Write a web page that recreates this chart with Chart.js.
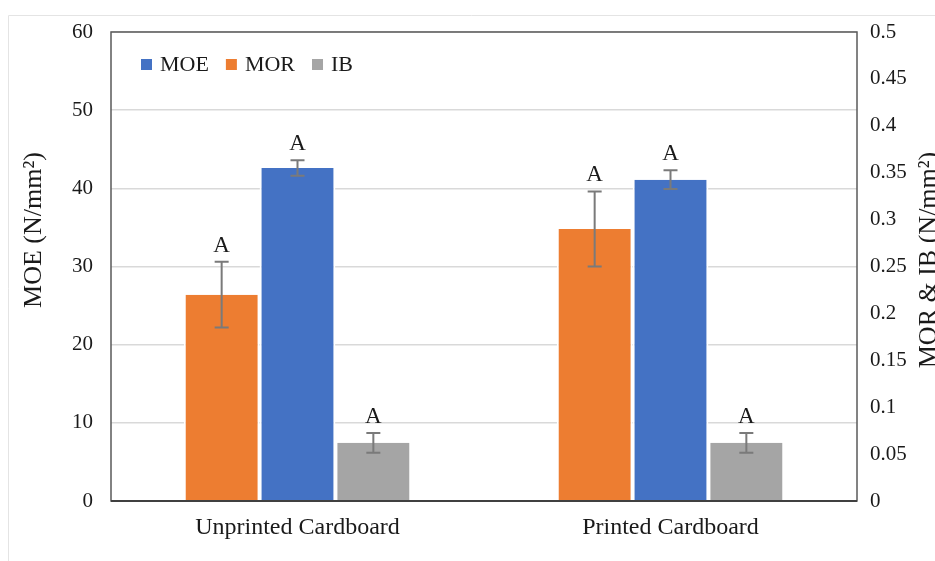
<!DOCTYPE html>
<html>
<head>
<meta charset="utf-8">
<script src="https://cdn.jsdelivr.net/npm/chart.js@4.4.1/dist/chart.umd.min.js"></script>
<style>
  html, body { margin: 0; padding: 0; background: #ffffff; }
  #wrap { position: relative; width: 935px; height: 561px; }
</style>
</head>
<body>
<div id="wrap"><canvas id="c" width="935" height="561"></canvas></div>
<script>
// Board groups and measured properties
const categories = ['Unprinted Cardboard', 'Printed Cardboard'];

const moeValues = [42.6, 41.1];      // N/mm², left axis
const moeErrors = [1.0, 1.2];
const morValues = [0.22, 0.29];      // N/mm², right axis
const morErrors = [0.035, 0.04];
const ibValues = [0.062, 0.062];     // N/mm², right axis
const ibErrors = [0.0105, 0.0105];

// Significance letters above each bar
const morLetters = ['A', 'A'];
const moeLetters = ['A', 'A'];
const ibLetters = ['A', 'A'];

// Tick labels for the two value axes
const leftTicks = [0, 10, 20, 30, 40, 50, 60];
const rightTicks = [0, 0.05, 0.1, 0.15, 0.2, 0.25, 0.3, 0.35, 0.4, 0.45, 0.5];

const SERIF = '"Liberation Serif", "Times New Roman", serif';
const TEXT = '#1a1a1a';

const datasets = [
  { label: 'MOR', data: morValues, errors: morErrors, letters: morLetters, yAxisID: 'y1',
    backgroundColor: '#ED7D31', legendOrder: 1 },
  { label: 'MOE', data: moeValues, errors: moeErrors, letters: moeLetters, yAxisID: 'y',
    backgroundColor: '#4472C4', legendOrder: 0 },
  { label: 'IB', data: ibValues, errors: ibErrors, letters: ibLetters, yAxisID: 'y1',
    backgroundColor: '#A5A5A5', legendOrder: 2 }
].map(d => Object.assign(d, {
  borderColor: '#ffffff',
  borderWidth: { left: 2, right: 2, top: 0, bottom: 0 },
  borderSkipped: false,
  categoryPercentage: 0.61,
  barPercentage: 1.0
}));

// Faint outer frame, plot frame, titles, in-plot legend, error bars and letters
const decorations = {
  id: 'decorations',
  beforeDraw(chart) {
    const ctx = chart.ctx;
    ctx.save();
    ctx.strokeStyle = '#e4e4e4';
    ctx.lineWidth = 1;
    ctx.beginPath();
    ctx.moveTo(8.5, 561);
    ctx.lineTo(8.5, 15.5);
    ctx.lineTo(935, 15.5);
    ctx.stroke();
    ctx.restore();
  },
  afterDatasetsDraw(chart) {
    const ctx = chart.ctx;
    ctx.save();
    chart.data.datasets.forEach((ds, i) => {
      const meta = chart.getDatasetMeta(i);
      const scale = chart.scales[ds.yAxisID];
      meta.data.forEach((bar, j) => {
        const v = ds.data[j], e = ds.errors[j];
        const yTop = scale.getPixelForValue(v + e);
        const yBot = scale.getPixelForValue(v - e);
        const x = bar.x;
        ctx.strokeStyle = '#7a7a7a';
        ctx.lineWidth = 2;
        ctx.beginPath();
        ctx.moveTo(x, yTop); ctx.lineTo(x, yBot);
        ctx.moveTo(x - 7, yTop); ctx.lineTo(x + 7, yTop);
        ctx.moveTo(x - 7, yBot); ctx.lineTo(x + 7, yBot);
        ctx.stroke();
        ctx.fillStyle = TEXT;
        ctx.font = '23px ' + SERIF;
        ctx.textAlign = 'center';
        ctx.textBaseline = 'alphabetic';
        ctx.fillText(ds.letters[j], x, yTop - 10);
      });
    });
    ctx.restore();
  },
  afterDraw(chart) {
    const ctx = chart.ctx;
    const a = chart.chartArea;
    ctx.save();
    // plot frame
    ctx.strokeStyle = '#5a5a5a';
    ctx.lineWidth = 1.5;
    ctx.strokeRect(a.left, a.top, a.right - a.left, a.bottom - a.top);
    ctx.strokeStyle = '#404040';
    ctx.lineWidth = 2;
    ctx.beginPath();
    ctx.moveTo(a.left, a.bottom); ctx.lineTo(a.right, a.bottom);
    ctx.stroke();

    // axis titles
    ctx.fillStyle = TEXT;
    ctx.font = '26px ' + SERIF;
    ctx.textAlign = 'center';
    ctx.textBaseline = 'alphabetic';
    ctx.save();
    ctx.translate(41, 230);
    ctx.rotate(-Math.PI / 2);
    ctx.fillText('MOE (N/mm²)', 0, 0);
    ctx.restore();
    ctx.save();
    ctx.translate(936, 260);
    ctx.rotate(-Math.PI / 2);
    ctx.fillText('MOR & IB (N/mm²)', 0, 0);
    ctx.restore();

    // legend inside the plot area
    const items = chart.data.datasets.slice().sort((p, q) => p.legendOrder - q.legendOrder);
    ctx.font = '22px ' + SERIF;
    ctx.textAlign = 'left';
    ctx.textBaseline = 'middle';
    let x = 141;
    const y = 64;
    items.forEach(ds => {
      ctx.fillStyle = ds.backgroundColor;
      ctx.fillRect(x, y - 5, 11, 11);
      ctx.fillStyle = TEXT;
      ctx.fillText(ds.label, x + 19, y + 1);
      x += 19 + ctx.measureText(ds.label).width + 17;
    });
    ctx.restore();
  }
};

new Chart(document.getElementById('c'), {
  type: 'bar',
  data: { labels: categories, datasets },
  options: {
    responsive: false,
    animation: false,
    layout: { padding: { top: 32, left: 0, right: 0, bottom: 0 } },
    plugins: {
      legend: { display: false },
      tooltip: { enabled: false }
    },
    scales: {
      x: {
        grid: { display: false, drawTicks: false },
        border: { display: false },
        ticks: { color: TEXT, font: { family: SERIF, size: 24 }, padding: 12 },
        afterFit(s) { s.height = 60; }
      },
      y: {
        position: 'left',
        min: 0, max: 60,
        afterBuildTicks(s) { s.ticks = leftTicks.map(v => ({ value: v })); },
        grid: { color: '#d9d9d9', lineWidth: 1.5, drawTicks: false },
        border: { display: false },
        ticks: { color: TEXT, font: { family: SERIF, size: 21 }, padding: 18 },
        afterFit(s) { s.width = 111; }
      },
      y1: {
        position: 'right',
        min: 0, max: 0.5,
        afterBuildTicks(s) { s.ticks = rightTicks.map(v => ({ value: v })); },
        grid: { display: false, drawTicks: false },
        border: { display: false },
        ticks: {
          color: TEXT, font: { family: SERIF, size: 21 }, padding: 13,
          callback: v => String(Number(v.toFixed(2)))
        },
        afterFit(s) { s.width = 78; }
      }
    }
  },
  plugins: [decorations]
});
</script>
</body>
</html>
